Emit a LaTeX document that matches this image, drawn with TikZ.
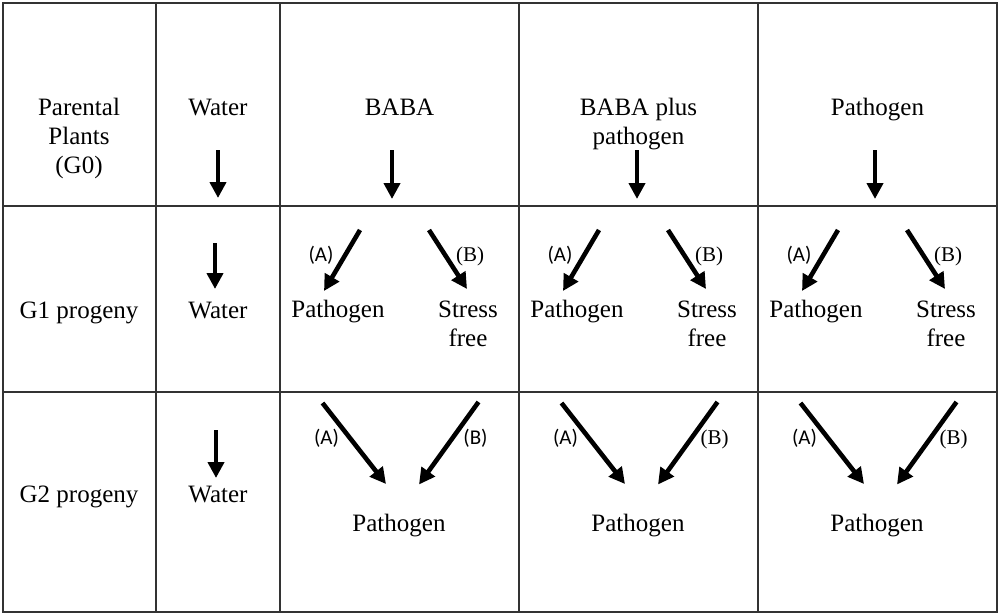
\documentclass[tikz,border=0pt]{standalone}
\usepackage{fontspec}
\setmainfont{Liberation Serif}
\newfontfamily\labfont{Carlito}
\usetikzlibrary{arrows.meta}

\begin{document}
\begin{tikzpicture}[x=1pt,y=-1pt,
  txt/.style={font=\fontsize{25}{29}\selectfont, inner sep=0pt, anchor=base, align=center},
  lab/.style={font=\fontsize{21}{24}\selectfont, inner sep=0pt, anchor=base},
  arr/.style={black, line width=4.6pt, ->, >={Triangle[length=16pt,width=16pt]}}]
\useasboundingbox (0,0) rectangle (1000,615);

% table lines
\foreach \x in {3,156,280,519,758,997} {
 \draw[black!80, line width=1.6pt] (\x,2.2)--(\x,612.8);
}
\foreach \y in {3,206,392,612} {
 \draw[black!80, line width=1.6pt] (2.2,\y)--(997.8,\y);
}

% first column (base = last line)
\node[txt] (g0) at (79,173) {Parental\\Plants\\(G0)};
\node[txt] (g1) at (79,318) {G1 progeny};
\node[txt] (g2) at (79,502) {G2 progeny};

% water column
\node[txt] (w0) at (218,115) {Water};
\coordinate (w0s) at (218,150);
\coordinate (w0e) at (218,198);
\draw[arr] (w0s)--(w0e);
\coordinate (w1s) at (215,243);
\coordinate (w1e) at (215,289);
\draw[arr] (w1s)--(w1e);
\node[txt] (w1) at (218,318) {Water};
\coordinate (w2s) at (216,430);
\coordinate (w2e) at (216,478);
\draw[arr] (w2s)--(w2e);
\node[txt] (w2) at (218,502) {Water};

% treatment columns
\foreach \c/\head/\hy/\ax/\bthree [count=\i] in {280/{BABA}/115/112/{\labfont (B)},
    519/{BABA plus\\pathogen}/144/118/{(B)}, 758/{Pathogen}/115/117/{(B)}} {
 % G0
 \node[txt] (t\i) at (\c+119.5,\hy) {\head};
 \coordinate (t\i s) at (\c+\ax,150);
 \coordinate (t\i e) at (\c+\ax,199);
 \draw[arr] (t\i s)--(t\i e);
 % G1
 \node[txt] (p\i) at (\c+58,317) {Pathogen};
 \node[txt] (s\i) at (\c+188,346) {Stress\\free};
 \coordinate (a\i s) at (\c+80,230);
 \coordinate (a\i e) at (\c+44,291);
 \coordinate (b\i s) at (\c+149,230);
 \coordinate (b\i e) at (\c+187,289);
 \draw[arr] (a\i s)--(a\i e);
 \draw[arr] (b\i s)--(b\i e);
 \node[lab] (la\i) at (\c+41,261) {\labfont (A)};
 \node[lab] (lb\i) at (\c+190,261) {(B)};
 % G2
 \node[txt] (q\i) at (\c+119,531) {Pathogen};
 \coordinate (c\i s) at (\c+42.5,403);
 \coordinate (c\i e) at (\c+106,484);
 \coordinate (d\i s) at (\c+198.5,402);
 \coordinate (d\i e) at (\c+139,484.5);
 \draw[arr] (c\i s)--(c\i e);
 \draw[arr] (d\i s)--(d\i e);
 \node[lab] (lc\i) at (\c+46.5,444.5) {\labfont (A)};
 \node[lab] (ld\i) at (\c+195.5,444.5) {\bthree};
}
\end{tikzpicture}
\end{document}
